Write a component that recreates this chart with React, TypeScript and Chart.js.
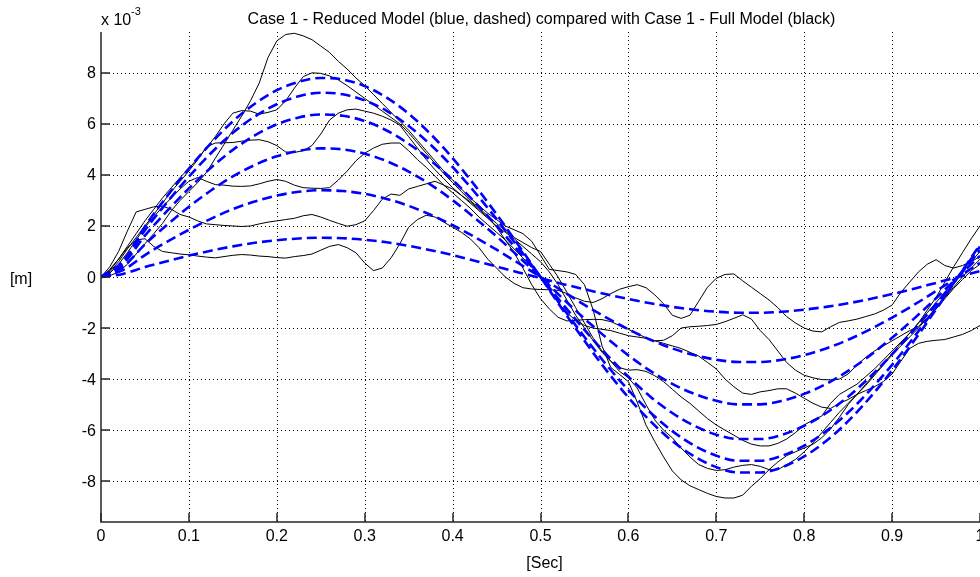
import { useEffect, useRef } from "react";
import { Chart, registerables } from "chart.js";

Chart.register(...registerables);

// Displacement in units of 1e-3 m, time in seconds.

// Reduced model samples (every 0.025 s)
const tReduced = [
  0, 0.025, 0.05, 0.075, 0.1, 0.125, 0.15, 0.175, 0.2, 0.225, 0.25, 0.275, 0.3, 0.325, 0.35, 0.375, 0.4, 0.425, 0.45, 0.475,
  0.5, 0.525, 0.55, 0.575, 0.6, 0.625, 0.65, 0.675, 0.7, 0.725, 0.75, 0.775, 0.8, 0.825, 0.85, 0.875, 0.9, 0.925, 0.95, 0.975, 1.0,
];

const reduced1 = [0, 0.62, 1.98, 3.16, 4.25, 5.24, 6.1, 6.79, 7.32, 7.65, 7.8, 7.74, 7.48, 7.03, 6.4, 5.6, 4.66, 3.6, 2.46, 1.24, 0, -1.27, -2.5, -3.66, -4.72, -5.65, -6.43, -7.03, -7.45, -7.66, -7.66, -7.45, -7.03, -6.43, -5.65, -4.72, -3.66, -2.5, -1.27, 0, 1.27];
const reduced2 = [0, 0.58, 1.83, 2.92, 3.93, 4.85, 5.65, 6.29, 6.77, 7.08, 7.22, 7.16, 6.92, 6.51, 5.92, 5.18, 4.31, 3.33, 2.27, 1.15, 0, -1.19, -2.35, -3.44, -4.43, -5.31, -6.04, -6.61, -7.0, -7.2, -7.2, -7.0, -6.61, -6.04, -5.31, -4.43, -3.44, -2.35, -1.19, 0, 1.19];
const reduced3 = [0, 0.51, 1.62, 2.58, 3.47, 4.28, 4.98, 5.55, 5.98, 6.25, 6.37, 6.32, 6.11, 5.74, 5.22, 4.57, 3.8, 2.94, 2.01, 1.01, 0, -1.05, -2.07, -3.03, -3.91, -4.69, -5.33, -5.83, -6.18, -6.35, -6.35, -6.18, -5.83, -5.33, -4.69, -3.91, -3.03, -2.07, -1.05, 0, 1.05];
const reduced4 = [0, 0.4, 1.28, 2.04, 2.75, 3.39, 3.94, 4.39, 4.73, 4.94, 5.04, 5.0, 4.83, 4.54, 4.13, 3.62, 3.01, 2.32, 1.59, 0.8, 0, -0.83, -1.63, -2.38, -3.07, -3.68, -4.19, -4.58, -4.85, -4.99, -4.99, -4.85, -4.58, -4.19, -3.68, -3.07, -2.38, -1.63, -0.83, 0, 0.83];
const reduced5 = [0, 0.27, 0.86, 1.38, 1.85, 2.28, 2.66, 2.96, 3.19, 3.34, 3.4, 3.37, 3.26, 3.06, 2.79, 2.44, 2.03, 1.57, 1.07, 0.54, 0, -0.55, -1.09, -1.59, -2.05, -2.46, -2.8, -3.06, -3.24, -3.33, -3.33, -3.24, -3.06, -2.8, -2.46, -2.05, -1.59, -1.09, -0.55, 0, 0.55];
const reduced6 = [0, 0.12, 0.39, 0.62, 0.84, 1.03, 1.2, 1.34, 1.44, 1.51, 1.54, 1.52, 1.46, 1.36, 1.22, 1.05, 0.86, 0.64, 0.41, 0.18, -0.04, -0.27, -0.48, -0.68, -0.86, -1.03, -1.17, -1.28, -1.36, -1.4, -1.4, -1.36, -1.28, -1.17, -1.03, -0.86, -0.67, -0.46, -0.23, 0, 0.23];

// Full model samples (every 0.01 s)
const tFull = [
  0, 0.01, 0.02, 0.03, 0.04, 0.05, 0.06, 0.07, 0.08, 0.09,
  0.1, 0.11, 0.12, 0.13, 0.14, 0.15, 0.16, 0.17, 0.18, 0.19,
  0.2, 0.21, 0.22, 0.23, 0.24, 0.25, 0.26, 0.27, 0.28, 0.29,
  0.3, 0.31, 0.32, 0.33, 0.34, 0.35, 0.36, 0.37, 0.38, 0.39,
  0.4, 0.41, 0.42, 0.43, 0.44, 0.45, 0.46, 0.47, 0.48, 0.49,
  0.5, 0.51, 0.52, 0.53, 0.54, 0.55, 0.56, 0.57, 0.58, 0.59,
  0.6, 0.61, 0.62, 0.63, 0.64, 0.65, 0.66, 0.67, 0.68, 0.69,
  0.7, 0.71, 0.72, 0.73, 0.74, 0.75, 0.76, 0.77, 0.78, 0.79,
  0.8, 0.81, 0.82, 0.83, 0.84, 0.85, 0.86, 0.87, 0.88, 0.89,
  0.9, 0.91, 0.92, 0.93, 0.94, 0.95, 0.96, 0.97, 0.98, 0.99, 1.0,
];

const full1 = [
  0, 0.05, 0.2, 0.5, 0.9, 1.3, 1.7, 2.1, 2.6, 3.0,
  3.35, 3.7, 4.1, 4.65, 5.2, 5.75, 6.3, 6.9, 7.6, 8.6,
  9.25, 9.5, 9.55, 9.45, 9.3, 9.05, 8.8, 8.45, 8.15, 7.8,
  7.5, 7.15, 6.8, 6.45, 6.1, 5.75, 5.35, 4.95, 4.55, 4.15,
  3.8, 3.45, 3.1, 2.8, 2.5, 2.25, 2.0, 1.85, 1.7, 1.4,
  0.85, 0.3, 0.25, 0.2, 0.1, -0.3, -1.3, -2.7, -3.55, -3.82,
  -4.1, -4.9, -5.8, -6.45, -7.05, -7.6, -7.95, -8.18, -8.33, -8.48,
  -8.6, -8.66, -8.66, -8.55, -8.2, -7.9, -7.55, -7.25, -7.0, -6.85,
  -6.7, -6.55, -6.3, -5.95, -5.5, -5.0, -4.6, -4.2, -3.8, -3.4,
  -3.0, -2.6, -2.2, -1.8, -1.3, -0.8, -0.2, 0.4, 0.95, 1.5, 2.0,
];
const full2 = [
  0, 0.25, 0.7, 1.2, 1.7, 2.2, 2.65, 3.1, 3.5, 3.9,
  4.25, 4.65, 5.05, 5.5, 6.0, 6.42, 6.52, 6.5, 6.38, 6.45,
  6.55, 6.9, 7.4, 7.85, 8.0, 7.98, 7.88, 7.72, 7.5, 7.25,
  7.0, 6.75, 6.5, 6.25, 6.0, 5.65, 5.25, 4.85, 4.45, 4.05,
  3.7, 3.35, 3.0, 2.7, 2.4, 2.1, 1.8, 1.55, 1.35, 1.15,
  1.0, 0.5, 0.0, -0.6, -1.2, -1.8, -2.4, -2.9, -3.3, -3.7,
  -3.95, -4.35, -5.0, -5.6, -6.0, -6.3, -6.7, -7.05, -7.35, -7.5,
  -7.58, -7.55, -7.45, -7.38, -7.35, -7.42, -7.55, -7.55, -7.35, -7.15,
  -6.85, -6.5, -6.1, -5.7, -5.3, -4.95, -4.6, -4.25, -3.85, -3.45,
  -3.05, -2.7, -2.35, -2.0, -1.6, -1.2, -0.8, -0.4, 0.0, 0.35, 0.7,
];
const full3 = [
  0, 0.2, 0.6, 1.1, 1.55, 2.0, 2.45, 2.9, 3.35, 3.75,
  4.15, 4.6, 5.1, 5.25, 5.26, 5.27, 5.32, 5.36, 5.38, 5.3,
  5.15, 4.9, 4.88, 4.95, 5.15, 5.6, 6.15, 6.42, 6.55, 6.58,
  6.5, 6.42, 6.3, 6.15, 5.95, 5.5, 5.05, 4.6, 4.2, 3.85,
  3.5, 3.2, 2.9, 2.6, 2.3, 2.0, 1.75, 1.5, 1.2, 0.9,
  0.6, 0.2, -0.3, -0.9, -1.5, -2.0, -2.5, -2.95, -3.3, -3.55,
  -3.65, -3.63, -3.7, -3.87, -4.1, -4.4, -4.7, -4.95, -5.25, -5.55,
  -5.8, -6.0, -6.2, -6.4, -6.55, -6.62, -6.62, -6.52, -6.35, -6.1,
  -5.8, -5.6, -5.45, -4.95, -4.6, -4.4, -4.2, -3.9, -3.6, -3.25,
  -2.9, -2.55, -2.2, -1.8, -1.4, -1.0, -0.6, -0.2, 0.2, 0.6, 1.0,
];
const full4 = [
  0, 0.15, 0.5, 0.95, 1.45, 1.95, 2.35, 2.75, 3.1, 3.45,
  3.75, 3.9, 3.75, 3.62, 3.6, 3.56, 3.55, 3.57, 3.65, 3.75,
  3.82, 3.75, 3.6, 3.5, 3.48, 3.47, 3.5, 3.8, 4.15, 4.55,
  4.85, 5.05, 5.2, 5.25, 5.25, 4.95, 4.6, 4.3, 3.95, 3.6,
  3.3, 3.0, 2.7, 2.35, 2.05, 1.75, 1.45, 1.1, 0.75, 0.4,
  0.0, -0.5, -1.0, -1.4, -1.7, -1.9, -2.0, -2.05, -2.1, -2.2,
  -2.3, -2.35, -2.4, -2.5, -2.6, -2.7, -2.8, -2.95, -3.1, -3.35,
  -3.6, -4.0, -4.3, -4.55, -4.6, -4.5, -4.45, -4.38, -4.38, -4.55,
  -4.75, -4.95, -5.1, -5.15, -4.95, -4.8, -4.6, -4.45, -4.3, -4.1,
  -3.8, -3.3, -2.8, -2.6, -2.52, -2.48, -2.45, -2.35, -2.25, -2.1, -1.9,
];
const full5 = [
  0, 0.4, 1.0, 1.8, 2.55, 2.65, 2.75, 2.78, 2.65, 2.45,
  2.35, 2.2, 2.08, 2.05, 2.02, 2.0, 1.98, 2.0, 2.08, 2.15,
  2.2, 2.25, 2.3, 2.4, 2.45, 2.35, 2.22, 2.1, 1.99, 2.05,
  2.2, 2.6, 3.05, 3.25, 3.2, 3.45, 3.55, 3.65, 3.75, 3.6,
  3.45, 3.2, 2.95, 2.65, 2.35, 1.95, 1.45, 0.95, 0.35, -0.3,
  -0.85, -1.25, -1.58, -1.72, -1.7, -1.67, -1.66, -1.67, -1.75, -1.9,
  -2.05, -2.22, -2.38, -2.5, -2.48, -2.3, -2.0, -1.95, -1.93, -1.9,
  -1.86, -1.75, -1.62, -1.48, -1.65, -2.1, -2.45, -2.9, -3.35, -3.65,
  -3.85, -3.95, -4.02, -4.03, -4.0, -3.8, -3.45, -3.15, -2.9, -2.7,
  -2.5, -2.3, -2.1, -1.93, -1.6, -1.25, -0.85, -0.45, -0.1, 0.25, 0.5,
];
const full6 = [
  0, 0.3, 0.7, 1.15, 1.45, 1.5, 1.2, 1.0, 0.95, 0.9,
  0.87, 0.82, 0.78, 0.75, 0.8, 0.85, 0.88, 0.86, 0.82, 0.8,
  0.76, 0.74, 0.8, 0.84, 0.9, 1.05, 1.2, 1.27, 1.15, 0.95,
  0.55, 0.25, 0.35, 0.75, 1.3, 1.95, 2.25, 2.42, 2.35, 2.15,
  1.95, 1.75, 1.5, 1.15, 0.7, 0.35, 0.0, -0.25, -0.42, -0.47,
  -0.49, -0.5, -0.52, -0.65, -0.82, -0.95, -1.0, -0.85, -0.65, -0.48,
  -0.38, -0.3, -0.42, -0.7, -1.05, -1.5, -1.62, -1.5, -0.95, -0.4,
  -0.05, 0.1, 0.12, -0.15, -0.4, -0.65, -0.9, -1.2, -1.55, -1.8,
  -2.0, -2.12, -2.15, -1.95, -1.78, -1.72, -1.65, -1.55, -1.45, -1.3,
  -1.1, -0.6, -0.2, 0.2, 0.5, 0.68, 0.45, 0.35, 0.45, 0.6, 0.8,
];

const reducedSeries = [reduced1, reduced2, reduced3, reduced4, reduced5, reduced6];
const fullSeries = [full1, full2, full3, full4, full5, full6];

// Axis ticks and labels
const xTicks = [0, 0.1, 0.2, 0.3, 0.4, 0.5, 0.6, 0.7, 0.8, 0.9, 1];
const xTickLabels = ["0", "0.1", "0.2", "0.3", "0.4", "0.5", "0.6", "0.7", "0.8", "0.9", "1"];
const yTicks = [-8, -6, -4, -2, 0, 2, 4, 6, 8];
const yTickLabels = ["-8", "-6", "-4", "-2", "0", "2", "4", "6", "8"];

const titleText = "Case 1 - Reduced Model (blue, dashed) compared with Case 1 - Full Model (black)";
const xAxisLabel = "[Sec]";
const yAxisLabel = "[m]";

const FONT = "'Liberation Sans', Arial, Helvetica, sans-serif";

const axesDecor = {
  id: "axesDecor",
  beforeDatasetsDraw(chart: any) {
    const { ctx, chartArea, scales } = chart;
    const { left, right, top, bottom } = chartArea;
    ctx.save();
    ctx.strokeStyle = "#000";
    ctx.lineWidth = 1;
    ctx.setLineDash([1, 3]);
    for (const v of xTicks) {
      const px = Math.round(scales.x.getPixelForValue(v)) + 0.5;
      if (px <= left + 1 || px >= right - 1) continue;
      ctx.beginPath();
      ctx.moveTo(px, top);
      ctx.lineTo(px, bottom);
      ctx.stroke();
    }
    for (const v of yTicks) {
      const py = Math.round(scales.y.getPixelForValue(v)) + 0.5;
      ctx.beginPath();
      ctx.moveTo(left, py);
      ctx.lineTo(right, py);
      ctx.stroke();
    }
    ctx.restore();
  },
  afterDatasetsDraw(chart: any) {
    const { ctx, chartArea, scales } = chart;
    const { left, right, top, bottom } = chartArea;
    ctx.save();
    ctx.setLineDash([]);
    ctx.strokeStyle = "#262626";
    ctx.lineWidth = 1.5;
    ctx.beginPath();
    ctx.moveTo(left, top);
    ctx.lineTo(left, bottom);
    ctx.lineTo(right, bottom);
    ctx.stroke();

    // inward tick marks
    ctx.beginPath();
    for (const v of xTicks) {
      const px = Math.round(scales.x.getPixelForValue(v));
      ctx.moveTo(px, bottom);
      ctx.lineTo(px, bottom - 9);
    }
    for (const v of yTicks) {
      const py = Math.round(scales.y.getPixelForValue(v));
      ctx.moveTo(left, py);
      ctx.lineTo(left + 9, py);
    }
    ctx.stroke();

    ctx.fillStyle = "#000";
    ctx.font = `16px ${FONT}`;
    ctx.textBaseline = "alphabetic";

    ctx.textAlign = "center";
    xTicks.forEach((v, i) => {
      ctx.fillText(xTickLabels[i], scales.x.getPixelForValue(v), bottom + 19);
    });

    ctx.textAlign = "right";
    yTicks.forEach((v, i) => {
      ctx.fillText(yTickLabels[i], left - 5, scales.y.getPixelForValue(v) + 5.5);
    });

    // exponent marker
    ctx.textAlign = "left";
    ctx.fillText("x 10", left, 25);
    ctx.font = `11px ${FONT}`;
    ctx.fillText("-3", left + 30, 15);

    ctx.font = `16px ${FONT}`;
    ctx.textAlign = "center";
    ctx.fillText(titleText, (left + right) / 2 + 1, 24);
    ctx.fillText(xAxisLabel, (left + right) / 2 + 4, 568);
    ctx.fillText(yAxisLabel, 21, 284);
    ctx.restore();
  },
};

export default function App() {
  const canvasRef = useRef<HTMLCanvasElement | null>(null);

  useEffect(() => {
    const canvas = canvasRef.current;
    if (!canvas) return;

    const fullSets = fullSeries.map((vals, k) => ({
      label: `Full ${k + 1}`,
      data: tFull.map((t, i) => ({ x: t, y: vals[i] })),
      borderColor: "#000000",
      borderWidth: 1,
      pointRadius: 0,
      tension: 0,
      order: 2,
    }));
    const reducedSets = reducedSeries.map((vals, k) => ({
      label: `Reduced ${k + 1}`,
      data: tReduced.map((t, i) => ({ x: t, y: vals[i] })),
      borderColor: "#0000ff",
      borderWidth: 2.6,
      borderDash: [10, 5],
      pointRadius: 0,
      cubicInterpolationMode: "monotone" as const,
      order: 1,
    }));

    const chart = new Chart(canvas, {
      type: "line",
      data: { datasets: [...fullSets, ...reducedSets] as any },
      options: {
        animation: false,
        responsive: false,
        events: [],
        layout: { padding: { left: 101, right: 0, top: 32, bottom: 55 } },
        plugins: { legend: { display: false }, tooltip: { enabled: false }, title: { display: false } },
        scales: {
          x: { type: "linear", min: 0, max: 1, display: false },
          y: { type: "linear", min: -9.6, max: 9.6, display: false },
        },
      },
      plugins: [axesDecor],
    });
    return () => chart.destroy();
  }, []);

  return (
    <div style={{ position: "fixed", left: 0, top: 0, width: 980, height: 577, background: "#fff" }}>
      <canvas ref={canvasRef} width={980} height={577} style={{ display: "block" }} />
    </div>
  );
}
